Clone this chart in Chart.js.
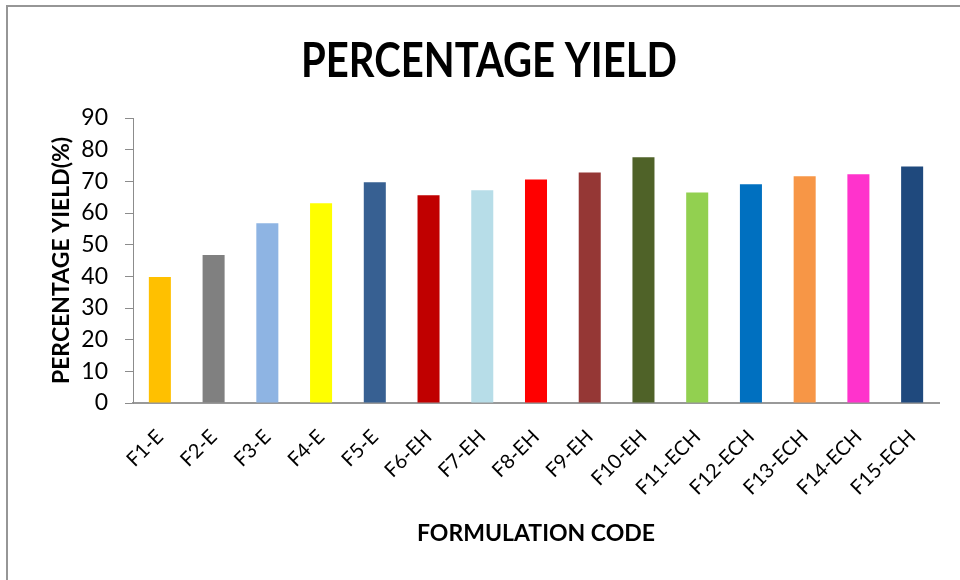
<!DOCTYPE html>
<html>
<head>
<meta charset="utf-8">
<title>Percentage Yield</title>
<script src="https://cdn.jsdelivr.net/npm/chart.js@4.4.1/dist/chart.umd.min.js"></script>
<style>
  html, body { margin: 0; padding: 0; background: #ffffff; }
  #wrap { width: 960px; height: 580px; position: relative; }
  canvas { display: block; }
</style>
</head>
<body>
<div id="wrap"><canvas id="chart" width="960" height="580"></canvas></div>
<script>
// Formulation codes and their percentage yields
const formulationCodes = ['F1-E', 'F2-E', 'F3-E', 'F4-E', 'F5-E', 'F6-EH', 'F7-EH', 'F8-EH', 'F9-EH', 'F10-EH', 'F11-ECH', 'F12-ECH', 'F13-ECH', 'F14-ECH', 'F15-ECH'];
const yieldPercent = [39.8, 46.7, 56.8, 63.1, 69.7, 65.6, 67.2, 70.6, 72.8, 77.6, 66.5, 69.1, 71.6, 72.2, 74.7];
const barColors = ['#FFC000', '#808080', '#8EB4E3', '#FFFF00', '#376092', '#C00000', '#B7DDE8', '#FF0000', '#953735', '#4F6228', '#92D050', '#0070C0', '#F79646', '#FF33CC', '#1F497D'];
const chartTitle = 'PERCENTAGE YIELD';
const yAxisTitle = 'PERCENTAGE YIELD(%)';
const xAxisTitle = 'FORMULATION CODE';

const FONT = "Lato, 'Open Sans', 'Liberation Sans', sans-serif";
const AXIS_GREY = '#8c8c8c';

// Outer frame of the chart box
const framePlugin = {
  id: 'frame',
  beforeDraw(chart) {
    const ctx = chart.ctx;
    ctx.save();
    ctx.fillStyle = '#ffffff';
    ctx.fillRect(0, 0, chart.width, chart.height);
    ctx.fillStyle = '#969696';
    ctx.fillRect(6, 5, 2, chart.height - 5);
    ctx.fillRect(6, 5, chart.width - 6, 2);
    ctx.restore();
  }
};

// Condensed bold heading, fitted to a fixed width
const headingPlugin = {
  id: 'heading',
  afterDraw(chart) {
    const ctx = chart.ctx;
    const targetWidth = 376;
    ctx.save();
    ctx.font = "bold 47px " + FONT;
    ctx.fillStyle = '#000000';
    ctx.textBaseline = 'alphabetic';
    ctx.textAlign = 'center';
    const w = ctx.measureText(chartTitle).width;
    const sx = Math.min(1, targetWidth / w);
    ctx.translate(489, 77);
    ctx.scale(sx, 1);
    ctx.fillText(chartTitle, 0, 0);
    ctx.restore();
  }
};

new Chart(document.getElementById('chart'), {
  type: 'bar',
  data: {
    labels: formulationCodes,
    datasets: [{
      data: yieldPercent,
      backgroundColor: barColors,
      borderWidth: 0,
      categoryPercentage: 1.0,
      barPercentage: 0.41
    }]
  },
  options: {
    responsive: false,
    devicePixelRatio: 1,
    animation: false,
    layout: { padding: { top: 118, right: 21, left: 0, bottom: 0 } },
    plugins: {
      legend: { display: false },
      title: { display: false },
      tooltip: { enabled: false }
    },
    scales: {
      x: {
        grid: { display: false, drawTicks: false },
        border: { display: true, color: '#999999', width: 2 },
        ticks: {
          color: '#000000',
          font: { family: FONT, size: 20 },
          minRotation: 45,
          maxRotation: 45,
          autoSkip: false,
          padding: 22
        },
        title: {
          display: true,
          text: xAxisTitle,
          color: '#000000',
          font: { family: FONT, size: 23, weight: 'bold' },
          padding: { top: 0, bottom: 33 }
        },
        afterFit(scale) { scale.height = 177; }
      },
      y: {
        min: 0,
        max: 90,
        grid: {
          display: true,
          drawOnChartArea: false,
          drawTicks: true,
          tickLength: 8,
          color: AXIS_GREY
        },
        border: { display: true, color: AXIS_GREY, width: 1 },
        ticks: {
          stepSize: 10,
          color: '#000000',
          font: { family: FONT, size: 23 },
          padding: 17
        },
        title: {
          display: true,
          text: yAxisTitle,
          color: '#000000',
          font: { family: FONT, size: 23, weight: 'bold' },
          padding: { top: 48, bottom: 0 }
        },
        afterFit(scale) { scale.width = 133; }
      }
    }
  },
  plugins: [framePlugin, headingPlugin]
});
</script>
</body>
</html>
